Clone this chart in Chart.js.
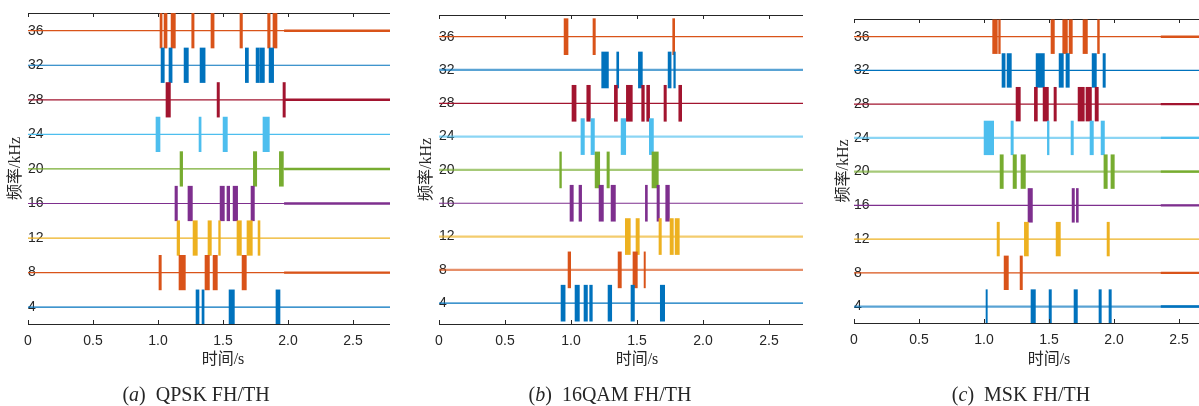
<!DOCTYPE html>
<html>
<head>
<meta charset="utf-8">
<script src="https://cdn.jsdelivr.net/npm/chart.js@4"></script>
<style>
  html, body { margin: 0; padding: 0; background: #fff; }
  body { width: 1199px; height: 406px; position: relative; overflow: hidden; }
  .panel { position: absolute; top: 0; height: 384px; overflow: hidden; }
  .panel canvas { position: absolute; left: 0; top: 0; }
  .cap { position: absolute; top: 384px; width: 300px; text-align: center;
         font-family: "Liberation Serif", "DejaVu Serif", serif; font-size: 20px; line-height: 20px; color: #262626; }
</style>
</head>
<body>
<div class="panel" style="left:0; width:390px"><canvas id="chartA" width="445" height="384"></canvas></div>
<div class="panel" style="left:417px; width:386px"><canvas id="chartB" width="445" height="384"></canvas></div>
<div class="panel" style="left:833px; width:366px"><canvas id="chartC" width="440" height="384"></canvas></div>
<div class="cap" style="left:46px">(<i>a</i>)&nbsp; QPSK FH/TH</div>
<div class="cap" style="left:460px">(<i>b</i>)&nbsp; 16QAM FH/TH</div>
<div class="cap" style="left:871px">(<i>c</i>)&nbsp; MSK FH/TH</div>
<script>
  // hop frequencies (kHz) and their colours
  const freqRows = [4, 8, 12, 16, 20, 24, 28, 32, 36];
  const rowColors = ['#0072BD', '#D95319', '#EDB120', '#7E2F8E', '#77AC30', '#4DBEEE', '#A2142F', '#0072BD', '#D95319'];
  const yTicks = [4, 8, 12, 16, 20, 24, 28, 32, 36];
  const xTicks = [0, 0.5, 1.0, 1.5, 2.0, 2.5, 3.0];
  const xTickLabels = ['0', '0.5', '1.0', '1.5', '2.0', '2.5', '3.0'];

  // bursts [start, end] in seconds, one list per row (4 kHz ... 36 kHz)
  const qpskHops = [
    [[1.290, 1.318], [1.336, 1.357], [1.544, 1.590], [1.905, 1.941]],
    [[1.005, 1.028], [1.159, 1.213], [1.359, 1.398], [1.421, 1.459], [1.644, 1.682]],
    [[1.144, 1.169], [1.267, 1.305], [1.382, 1.413], [1.464, 1.482], [1.605, 1.644], [1.682, 1.728], [1.767, 1.787]],
    [[1.128, 1.152], [1.228, 1.267], [1.475, 1.513], [1.528, 1.554], [1.575, 1.615], [1.713, 1.744]],
    [[1.167, 1.192], [1.731, 1.762], [1.931, 1.967]],
    [[0.982, 1.018], [1.313, 1.334], [1.498, 1.536], [1.805, 1.859]],
    [[1.059, 1.098], [1.452, 1.475], [1.959, 1.982]],
    [[1.021, 1.051], [1.082, 1.111], [1.198, 1.236], [1.321, 1.365], [1.669, 1.698], [1.752, 1.782], [1.782, 1.821], [1.852, 1.892]],
    [[1.013, 1.034], [1.044, 1.072], [1.098, 1.136], [1.257, 1.280], [1.405, 1.434], [1.628, 1.652], [1.841, 1.865], [1.882, 1.918]]
  ];
  const qamHops = [
    [[0.922, 0.958], [1.028, 1.066], [1.096, 1.127], [1.139, 1.164], [1.278, 1.311], [1.452, 1.483], [1.674, 1.712]],
    [[0.975, 1.000], [1.354, 1.384], [1.467, 1.505], [1.551, 1.566]],
    [[1.409, 1.452], [1.490, 1.520], [1.664, 1.687], [1.748, 1.778], [1.786, 1.823]],
    [[0.990, 1.020], [1.058, 1.083], [1.210, 1.248], [1.301, 1.339], [1.561, 1.581], [1.649, 1.672], [1.715, 1.748]],
    [[0.912, 0.930], [1.180, 1.220], [1.270, 1.293], [1.611, 1.664]],
    [[1.073, 1.104], [1.149, 1.180], [1.377, 1.417], [1.591, 1.627]],
    [[1.005, 1.041], [1.117, 1.149], [1.326, 1.354], [1.417, 1.467], [1.533, 1.558], [1.571, 1.598], [1.702, 1.725], [1.814, 1.841]],
    [[1.230, 1.286], [1.344, 1.364], [1.508, 1.543], [1.733, 1.761], [1.776, 1.793]],
    [[0.945, 0.980], [1.164, 1.187], [1.768, 1.788]]
  ];
  const mskHops = [
    [[1.013, 1.028], [1.359, 1.398], [1.498, 1.521], [1.690, 1.721], [1.882, 1.905], [1.959, 1.982]],
    [[1.152, 1.190], [1.275, 1.298]],
    [[1.098, 1.121], [1.308, 1.344], [1.552, 1.590], [1.944, 1.967]],
    [[1.336, 1.375], [1.675, 1.698], [1.708, 1.728]],
    [[1.121, 1.151], [1.221, 1.252], [1.282, 1.321], [1.920, 1.951], [1.974, 2.005]],
    [[0.998, 1.077], [1.205, 1.228], [1.485, 1.503], [1.667, 1.690], [1.813, 1.844], [1.898, 1.929]],
    [[1.244, 1.282], [1.385, 1.413], [1.452, 1.498], [1.536, 1.559], [1.721, 1.774], [1.782, 1.829], [1.852, 1.882]],
    [[1.136, 1.165], [1.175, 1.213], [1.398, 1.467], [1.575, 1.613], [1.628, 1.659], [1.829, 1.867], [1.913, 1.936]],
    [[1.064, 1.105], [1.110, 1.128], [1.513, 1.544], [1.603, 1.644], [1.652, 1.682], [1.759, 1.798], [1.871, 1.890]]
  ];

  const axisColor = '#262626';
  const tickFont = { family: '"Liberation Sans", Arial, sans-serif', size: 14 };
  const titleFont = { family: '"Liberation Serif", "Noto Sans CJK SC", serif', size: 16 };

  function rgba(hex, a) {
    const n = parseInt(hex.slice(1), 16);
    return 'rgba(' + (n >> 16) + ',' + ((n >> 8) & 255) + ',' + (n & 255) + ',' + a + ')';
  }

  // inward tick marks on top and bottom edges
  const innerTicks = {
    id: 'innerTicks',
    afterDraw(chart) {
      const { ctx, chartArea } = chart;
      const sx = chart.scales.x;
      ctx.save();
      ctx.strokeStyle = axisColor;
      ctx.lineWidth = 1;
      sx.ticks.forEach(t => {
        const px = Math.round(sx.getPixelForValue(t.value)) + 0.5;
        ctx.beginPath();
        ctx.moveTo(px, chartArea.bottom);
        ctx.lineTo(px, chartArea.bottom - 4);
        ctx.moveTo(px, chartArea.top);
        ctx.lineTo(px, chartArea.top + 4);
        ctx.stroke();
      });
      ctx.restore();
    }
  };

  function makePanel(id, hops, cfg) {
    const datasets = [];
    freqRows.forEach((f, i) => {
      const col = rowColors[i];
      const bold = cfg.boldRows.includes(f);
      datasets.push({
        type: 'line',
        data: [{ x: 0, y: f }, { x: 3, y: f }],
        borderColor: bold ? rgba(col, 0.65) : col,
        borderWidth: bold ? 2.2 : 1.2,
        pointRadius: 0,
        order: 2
      });
      if (cfg.tailRows.includes(f)) {
        datasets.push({
          type: 'line',
          data: [{ x: cfg.tailStart, y: f }, { x: 3, y: f }],
          borderColor: col,
          borderWidth: 2.4,
          pointRadius: 0,
          order: 1
        });
      }
      datasets.push({
        type: 'bar',
        indexAxis: 'y',
        grouped: false,
        data: hops[i].map(h => ({ y: f, x: h })),
        backgroundColor: col,
        borderWidth: 0,
        barPercentage: cfg.barPct,
        categoryPercentage: 1,
        order: 0
      });
    });

    return new Chart(document.getElementById(id), {
      type: 'line',
      data: { datasets },
      plugins: [innerTicks],
      options: {
        responsive: false,
        animation: false,
        devicePixelRatio: 1,
        layout: { padding: { top: cfg.top, right: cfg.right, left: 0, bottom: 0 } },
        plugins: { legend: { display: false }, tooltip: { enabled: false } },
        scales: {
          x: {
            type: 'linear', position: 'bottom', min: 0, max: 3, offset: false,
            afterBuildTicks: s => { s.ticks = xTicks.map(v => ({ value: v })); },
            afterFit: s => { s.height = cfg.xHeight; },
            grid: { display: false, drawTicks: false, offset: false },
            border: { display: true, color: axisColor, width: 1 },
            ticks: {
              color: axisColor, font: tickFont, padding: 9, maxRotation: 0,
              callback: (v, i) => xTickLabels[i]
            },
            title: { display: true, text: '时间/s', color: axisColor, font: titleFont, padding: { top: 0, bottom: 15 } }
          },
          xTop: {
            type: 'linear', axis: 'x', position: 'top', min: 0, max: 3, offset: false,
            afterFit: s => { s.height = 0; },
            grid: { display: false, drawTicks: false },
            border: { display: true, color: axisColor, width: 1 },
            ticks: { display: false }
          },
          y: {
            type: 'linear', min: cfg.yMin, max: cfg.yMax, z: 1, offset: false,
            afterBuildTicks: s => { s.ticks = yTicks.map(v => ({ value: v })); },
            afterFit: s => { s.width = cfg.yWidth; },
            grid: { display: false, drawTicks: false, offset: false },
            border: { display: false },
            ticks: { mirror: true, padding: 0, color: axisColor, font: tickFont },
            title: { display: true, text: '频率/kHz', color: axisColor, font: titleFont, padding: { top: cfg.yTitlePad, bottom: 0 } }
          }
        }
      }
    });
  }

  makePanel('chartA', qpskHops, {
    top: 13, right: 27, xHeight: 60, yWidth: 28, yTitlePad: 6, yMin: 2.05, yMax: 38.05, barPct: 1.02,
    boldRows: [], tailRows: [8, 16, 20, 28, 36], tailStart: 1.97
  });
  makePanel('chartB', qamHops, {
    top: 15, right: 27, xHeight: 60, yWidth: 22, yTitlePad: 0, yMin: 1.5, yMax: 38.6, barPct: 1.1,
    boldRows: [8, 12, 20, 24, 32], tailRows: [], tailStart: 3
  });
  makePanel('chartC', mskHops, {
    top: 19, right: 29, xHeight: 61, yWidth: 21, yTitlePad: 1, yMin: 2.05, yMax: 38.1, barPct: 1.02,
    boldRows: [4, 20, 24], tailRows: [4, 8, 16, 20, 24, 28, 36], tailStart: 2.36
  });
</script>
</body>
</html>
